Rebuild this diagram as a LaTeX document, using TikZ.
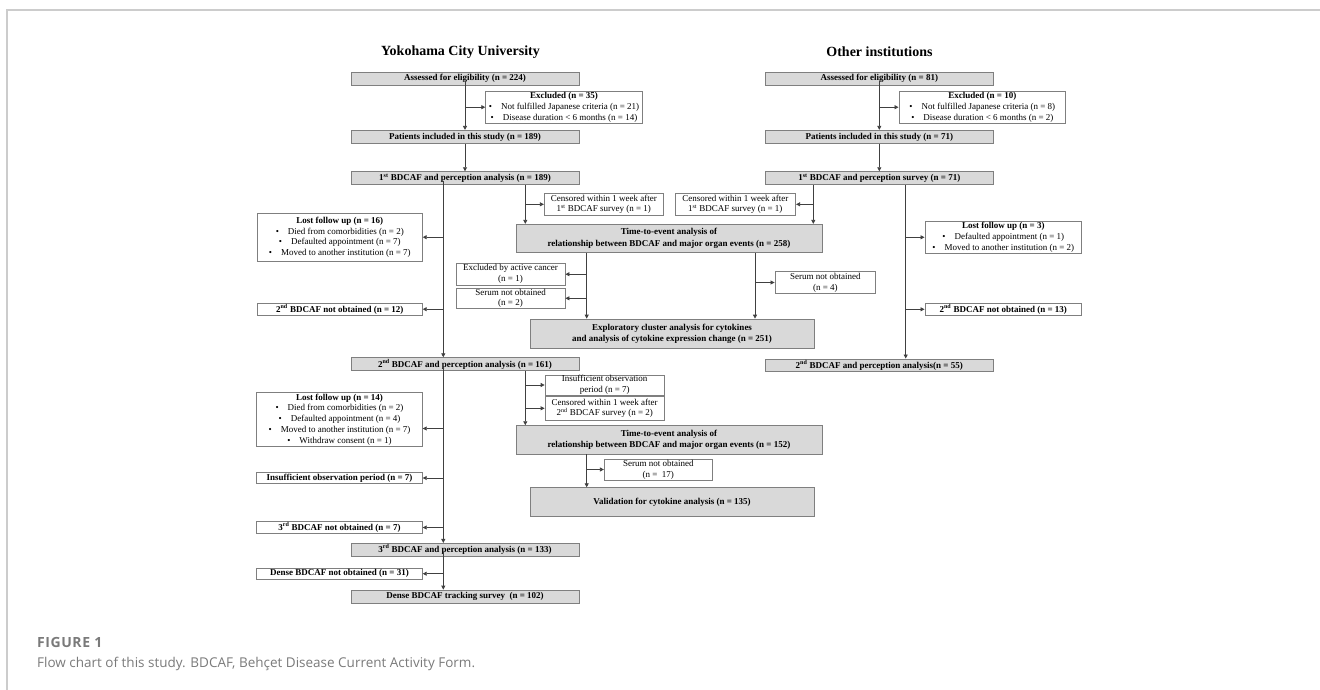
\documentclass[tikz,border=0pt]{standalone}
\usepackage{fontspec}
\setmainfont{Liberation Serif}
\newfontfamily\capfont{Open Sans}
\newfontfamily\capfontb[LetterSpace=4]{Open Sans Bold}
\usetikzlibrary{arrows.meta}
\definecolor{boxgray}{HTML}{D9D9D9}
\definecolor{edgegray}{HTML}{7F7F7F}
\definecolor{linegray}{HTML}{404040}
\definecolor{capgray}{HTML}{7A7A7A}
\definecolor{framegray}{HTML}{CCCCCC}
\begin{document}
\begin{tikzpicture}[x=1pt,y=-1pt,
  gbox/.style={draw=edgegray, fill=boxgray, line width=0.8pt, inner sep=0pt, align=center, font=\fontsize{9}{10.8}\selectfont\bfseries},
  wbox/.style={draw=edgegray, fill=white, line width=0.8pt, inner sep=0pt, align=center, font=\fontsize{9}{10.8}\selectfont},
  wboxb/.style={wbox, font=\fontsize{9}{10.8}\selectfont\bfseries},
  arr/.style={draw=linegray, line width=0.8pt, -{Triangle[length=4pt,width=4pt]}},
  ttl/.style={font=\fontsize{14}{16}\selectfont\bfseries},
]
\useasboundingbox (0,0) rectangle (1320,690);
\draw[framegray, line width=1.5pt] (7,690) -- (7,10) -- (1320,10);

% titles
\node[ttl] (tycu) at (460.5,51.7) {Yokohama City University};
\node[ttl] (toth) at (879.5,51.3) {Other institutions};

% YCU column
\node[gbox, minimum width=228pt, minimum height=13pt] (a1) at (465,78.5) {Assessed for eligibility (n = 224)};
\node[wbox, minimum width=156.6pt, minimum height=32.3pt] (ex1) at (564,107.2) {\textbf{Excluded (n = 35)}\\ •\hspace{9pt}Not fulfilled Japanese criteria (n = 21)\\ •\hspace{9pt}Disease duration < 6 months (n = 14)};
\node[gbox, minimum width=228pt, minimum height=13.4pt] (p1) at (465,137) {Patients included in this study (n = 189)};
\node[gbox, minimum width=228pt, minimum height=13pt] (b1) at (465,178.2) {1\textsuperscript{st} BDCAF and perception analysis (n = 189)};
\node[wbox, minimum width=119pt, minimum height=22pt] (c1) at (603.8,204.3) {Censored within 1 week after\\ 1\textsuperscript{st} BDCAF survey (n = 1)};
\node[wbox, minimum width=165pt, minimum height=47.7pt] (lf1) at (339.8,237.2) {\textbf{Lost follow up (n = 16)}\\ •\hspace{9pt}Died from comorbidities (n = 2)\\ •\hspace{9pt}Defaulted appointment (n = 7)\\ •\hspace{9pt}Moved to another institution (n = 7)};
\node[wboxb, minimum width=165pt, minimum height=11.7pt] (nb2) at (339.8,309.2) {2\textsuperscript{nd} BDCAF not obtained (n = 12)};
\node[gbox, minimum width=306pt, minimum height=28.4pt] (t1) at (669,238.5) {Time-to-event analysis of\\[0.8pt] relationship between BDCAF and major organ events (n = 258)};
\node[wbox, minimum width=109pt, minimum height=21.7pt] (ac) at (510.5,274.2) {Excluded by active cancer\\ (n = 1)};
\node[wbox, minimum width=109pt, minimum height=20pt] (s2) at (510.5,298.3) {Serum not obtained\\ (n = 2)};
\node[wbox, minimum width=100.7pt, minimum height=21.6pt] (s4) at (825.3,282.5) {Serum not obtained\\ (n = 4)};
\node[gbox, minimum width=284pt, minimum height=29.3pt] (e1) at (672,333.7) {Exploratory cluster analysis for cytokines\\[0.8pt] and analysis of cytokine expression change (n = 251)};
\node[gbox, minimum width=228pt, minimum height=13pt] (b2) at (465,364.2) {2\textsuperscript{nd} BDCAF and perception analysis (n = 161)};
\node[wbox, minimum width=165.6pt, minimum height=54.4pt] (lf2) at (339.5,419.5) {\textbf{Lost follow up (n = 14)}\\ •\hspace{9pt}Died from comorbidities (n = 2)\\ •\hspace{9pt}Defaulted appointment (n = 4)\\ •\hspace{9pt}Moved to another institution (n = 7)\\ •\hspace{9pt}Withdraw consent (n = 1)};
\node[wboxb, minimum width=165.6pt, minimum height=11.5pt] (iop) at (339.5,478) {Insufficient observation period (n = 7)};
\node[wbox, minimum width=119.3pt, minimum height=20pt] (io2) at (604.7,385) {Insufficient observation\\ period (n = 7)};
\node[wbox, minimum width=119.3pt, minimum height=23.3pt] (c2) at (604.7,408.3) {Censored within 1 week after\\ 2\textsuperscript{nd} BDCAF survey (n = 2)};
\node[gbox, minimum width=306pt, minimum height=28.3pt] (t2) at (669,439.8) {Time-to-event analysis of\\[0.8pt] relationship between BDCAF and major organ events (n = 152)};
\node[wbox, minimum width=108pt, minimum height=21pt] (s17) at (658.3,469.5) {Serum not obtained\\ (n = \ 17)};
\node[gbox, minimum width=284pt, minimum height=29pt] (v) at (672,502.2) {Validation for cytokine analysis (n = 135)};
\node[wboxb, minimum width=165.6pt, minimum height=11.5pt] (nb3) at (339.5,527.5) {3\textsuperscript{rd} BDCAF not obtained (n = 7)};
\node[gbox, minimum width=228pt, minimum height=12.7pt] (b3) at (465,549.7) {3\textsuperscript{rd} BDCAF and perception analysis (n = 133)};
\node[wboxb, minimum width=165.6pt, minimum height=11pt] (dn) at (339.5,573.7) {Dense BDCAF not obtained (n = 31)};
\node[gbox, minimum width=228pt, minimum height=13.3pt] (d) at (465,596.7) {Dense BDCAF tracking survey \ (n = 102)};

% Other institutions column
\node[gbox, minimum width=228pt, minimum height=13pt] (oa) at (879.3,78.5) {Assessed for eligibility (n = 81)};
\node[wbox, minimum width=166.7pt, minimum height=32.3pt] (oex) at (982.3,107.2) {\textbf{Excluded (n = 10)}\\ •\hspace{9pt}Not fulfilled Japanese criteria (n = 8)\\ •\hspace{9pt}Disease duration < 6 months (n = 2)};
\node[gbox, minimum width=228pt, minimum height=13.4pt] (op) at (879.3,137) {Patients included in this study (n = 71)};
\node[gbox, minimum width=228pt, minimum height=13pt] (ob1) at (879.3,178.2) {1\textsuperscript{st} BDCAF and perception survey (n = 71)};
\node[wbox, minimum width=120.7pt, minimum height=22pt] (oc1) at (735.3,204.3) {Censored within 1 week after\\ 1\textsuperscript{st} BDCAF survey (n = 1)};
\node[wbox, minimum width=156.7pt, minimum height=32pt] (olf) at (1003.3,237.3) {\textbf{Lost follow up (n = 3)}\\ •\hspace{9pt}Defaulted appointment (n = 1)\\ •\hspace{9pt}Moved to another institution (n = 2)};
\node[wboxb, minimum width=156.7pt, minimum height=12pt] (onb2) at (1003.3,309.3) {2\textsuperscript{nd} BDCAF not obtained (n = 13)};
\node[gbox, minimum width=228pt, minimum height=12.7pt] (ob2) at (879.3,365.3) {2\textsuperscript{nd} BDCAF and perception analysis(n = 55)};

% connector columns
\coordinate (lx) at (443.3,0);
\coordinate (rx) at (525.3,0);
\coordinate (mx) at (586.7,0);
\coordinate (mx2) at (755,0);
\coordinate (ox) at (813.3,0);
\coordinate (ox2) at (905.7,0);

% YCU connectors
\draw[arr] ([yshift=4pt]a1.south) -- (p1.north);
\draw[arr] (a1.south |- ex1.west) -- (ex1.west);
\draw[arr] (p1.south) -- (b1.north);
\draw[arr] ([yshift=4pt]b1.south -| lx) -- (b2.north -| lx);
\draw[arr] (lf1.east -| lx) -- (lf1.east);
\draw[arr] (nb2.east -| lx) -- (nb2.east);
\draw[arr] ([yshift=4pt]b2.south -| lx) -- (b3.north -| lx);
\draw[arr] ([yshift=-9pt]lf2.east -| lx) -- ([yshift=-9pt]lf2.east);
\draw[arr] (iop.east -| lx) -- (iop.east);
\draw[arr] (nb3.east -| lx) -- (nb3.east);
\draw[arr] ([yshift=4pt]b3.south -| lx) -- (d.north -| lx);
\draw[arr] (dn.east -| lx) -- (dn.east);

\draw[arr] (b1.south -| rx) -- (t1.north -| rx);
\draw[arr] (c1.west -| rx) -- (c1.west);
\draw[arr] (b2.south -| rx) -- (t2.north -| rx);
\draw[arr] (io2.west -| rx) -- (io2.west);
\draw[arr] (c2.west -| rx) -- (c2.west);

\draw[arr] (t1.south -| mx) -- (e1.north -| mx);
\draw[arr] (ac.east -| mx) -- (ac.east);
\draw[arr] (s2.east -| mx) -- (s2.east);
\draw[arr] (t1.south -| mx2) -- (e1.north -| mx2);
\draw[arr] (s4.west -| mx2) -- (s4.west);
\draw[arr] (t2.south -| mx) -- (v.north -| mx);
\draw[arr] (s17.west -| mx) -- (s17.west);

% Other connectors
\draw[arr] ([yshift=4pt]oa.south) -- (op.north);
\draw[arr] (oa.south |- oex.west) -- (oex.west);
\draw[arr] (op.south) -- (ob1.north);
\draw[arr] (ob1.south -| ox) -- (t1.north -| ox);
\draw[arr] (oc1.east -| ox) -- (oc1.east);
\draw[arr] (ob1.south -| ox2) -- (ob2.north -| ox2);
\draw[arr] (olf.west -| ox2) -- (olf.west);
\draw[arr] (onb2.west -| ox2) -- (onb2.west);

% caption
\node[anchor=west, inner sep=0pt, text=capgray, font=\capfontb\fontsize{14}{16}\selectfont] (fig) at (37,642.5) {FIGURE 1};
\node[anchor=west, inner sep=0pt, text=capgray, font=\capfont\fontsize{13.5}{16}\selectfont] (cap) at (37,663.5) {Flow chart of this study. BDCAF, Behçet Disease Current Activity Form.};
\end{tikzpicture}
\end{document}
